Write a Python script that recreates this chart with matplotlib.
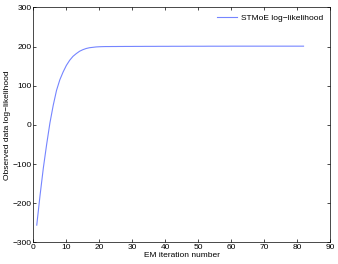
import numpy as np
import matplotlib.pyplot as plt

# observed-data log-likelihood per EM iteration
head = [-256, -180, -110, -50, 5, 50, 88, 115, 135, 152,
        165, 175, 182, 188, 192, 195, 197, 198, 199, 199.5,
        199.8, 200.0]
tail = [200.0, 200.1, 200.1, 200.2, 200.2, 200.3, 200.3, 200.3, 200.4, 200.4,
        200.4, 200.5, 200.5, 200.5, 200.5, 200.6, 200.6, 200.6, 200.6, 200.7,
        200.7, 200.7, 200.7, 200.7, 200.8, 200.8, 200.8, 200.8, 200.8, 200.8,
        200.9, 200.9, 200.9, 200.9, 200.9, 200.9, 200.9, 201.0, 201.0, 201.0,
        201.0, 201.0, 201.0, 201.0, 201.0, 201.0, 201.0, 201.0, 201.0, 201.0,
        201.0, 201.0, 201.0, 201.0, 201.0, 201.0, 201.0, 201.0, 201.0, 201.0]
loglik = head + tail
iterations = np.arange(1, len(loglik) + 1)

plt.rcParams['font.family'] = ['Liberation Sans', 'DejaVu Sans']

fig = plt.figure(figsize=(3.38, 2.64), dpi=100)
ax = fig.add_axes([0.099, 0.082, 0.877, 0.890])
ax.plot(iterations, loglik, color='#7585ff', linewidth=0.8, label='STMoE log\u2212likelihood')

ax.set_xlim(0, 90)
ax.set_ylim(-300, 300)
ax.set_xticks(np.arange(0, 91, 10))
ax.set_yticks(np.arange(-300, 301, 100))
ax.set_yticklabels(['\u2212300', '\u2212200', '\u2212100', '0', '100', '200', '300'])
ax.tick_params(direction='in', length=2.5, width=0.5, labelsize=6, pad=1.5,
               top=True, right=True)
for s in ax.spines.values():
    s.set_linewidth(0.5)

ax.set_xlabel('EM iteration number', fontsize=6, labelpad=0.3)
ax.set_ylabel('Observed data log\u2212likelihood', fontsize=6, labelpad=1)
ax.legend(loc='upper right', frameon=False, fontsize=6, handlelength=2.4,
          borderaxespad=0.4, handletextpad=0.5)

fig.savefig('out.png', dpi=100)
